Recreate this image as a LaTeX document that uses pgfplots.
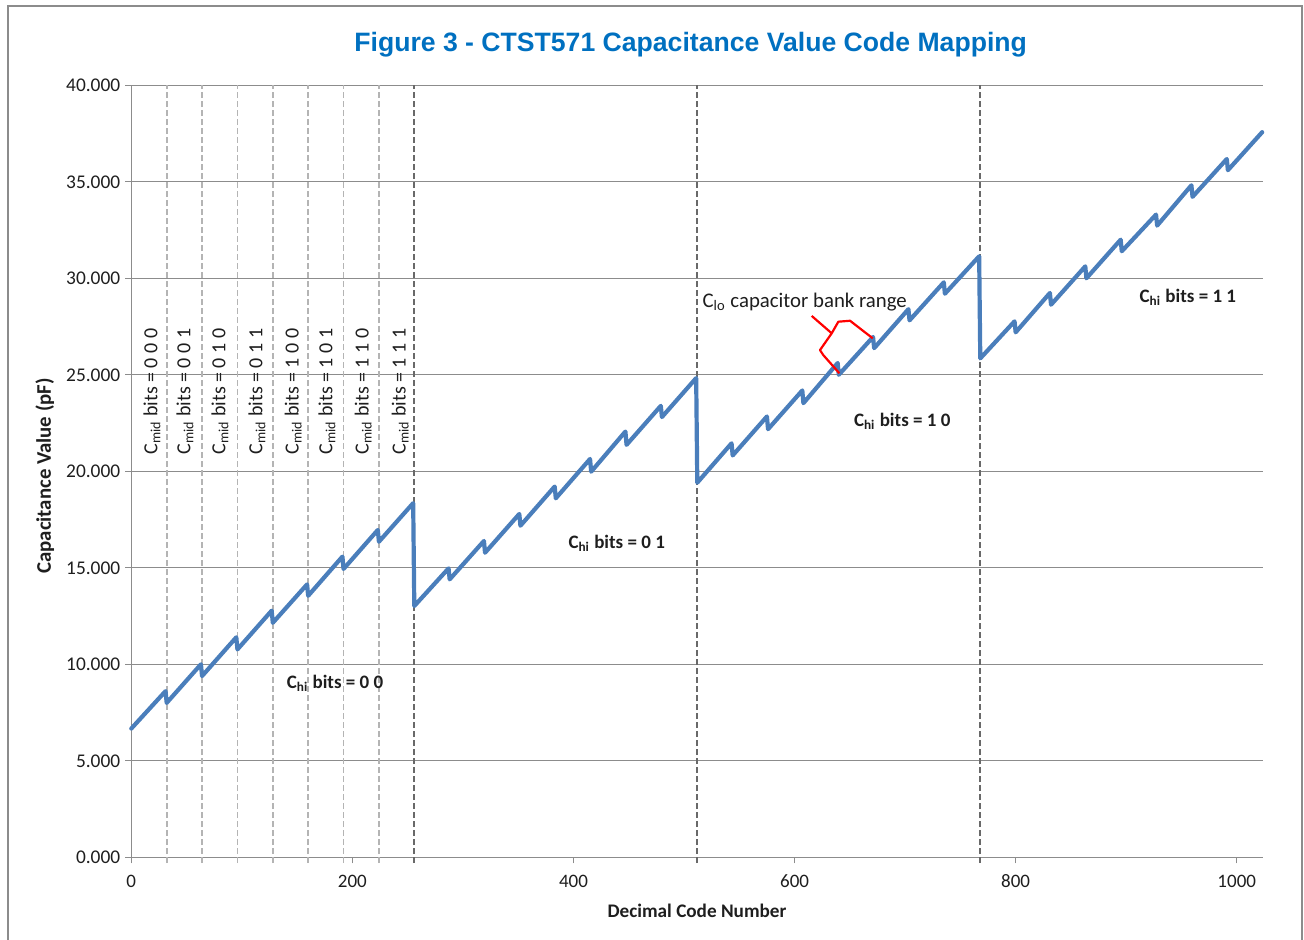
\documentclass[border=0pt]{standalone}
\usepackage{pgfplots}
\pgfplotsset{compat=1.18}
\usepackage{fontspec}
\setmainfont{Carlito}
\newfontfamily\titlefont{Liberation Sans}
\definecolor{lineblue}{RGB}{74,126,187}
\definecolor{titleblue}{RGB}{0,112,192}
\definecolor{gridgray}{RGB}{140,140,140}
\definecolor{lightdash}{RGB}{180,180,180}
\definecolor{darkdash}{RGB}{105,105,105}
\definecolor{txt}{RGB}{30,30,30}
\begin{document}
\begin{tikzpicture}
\begin{axis}[
  scale only axis, width=565.7pt, height=386pt,
  xmin=0, xmax=1023.5, ymin=0, ymax=40,
  clip=false,
  axis x line*=bottom, axis y line*=left,
  axis line style={gridgray, line width=0.7pt},
  xtick={0,200,...,1000}, ytick={0,5,...,40},
  tick align=outside, major tick length=3pt,
  tick style={gridgray, line width=0.7pt},
  ymajorgrids, major grid style={gridgray, line width=0.6pt},
  /pgf/number format/assume math mode=true,
  /pgf/number format/1000 sep={},
  yticklabel={\pgfmathprintnumber[fixed,fixed zerofill,precision=3]{\tick}},
  xticklabel style={font=\fontsize{9.5}{11}\selectfont, text=txt, yshift=-2.2pt},
  yticklabel style={font=\fontsize{9.7}{11}\selectfont, text=txt, xshift=1pt},
  xlabel={Decimal Code Number},
  ylabel={Capacitance Value (pF)},
  xlabel style={font=\fontsize{9.6}{11}\selectfont\bfseries, text=txt, at={(axis description cs:0.5,-0.0696)}, anchor=center},
  ylabel style={font=\fontsize{10.4}{12}\selectfont\bfseries, text=txt, at={(axis description cs:-0.0764,0.494)}, anchor=center, rotate=0},
]
\coordinate (BL) at (rel axis cs:0,0);
\coordinate (TR) at (rel axis cs:1,1);
\pgfplotsinvokeforeach{32,64,96,128,160,192,224}{
  \draw[lightdash, dash pattern=on 2.8pt off 1.7pt, line width=0.9pt] (axis cs:#1,-0.3) -- (axis cs:#1,40);
}
\pgfplotsinvokeforeach{256,512,768}{
  \draw[darkdash, dash pattern=on 2.8pt off 1.7pt, line width=0.9pt] (axis cs:#1,-0.3) -- (axis cs:#1,40);
}
\addplot[lineblue, line width=2.1pt, line join=round, line cap=round] coordinates {
(0,6.67) (31,8.61) (32,8.00) (63,10.00) (64,9.39) (95,11.40) (96,10.77) (127,12.78)
(128,12.15) (159,14.14) (160,13.55) (191,15.58) (192,14.94) (223,16.96) (224,16.35) (255,18.35)
(256,13.02) (287,14.97) (288,14.40) (319,16.39) (320,15.78) (351,17.79) (352,17.18) (383,19.21)
(384,18.60) (415,20.64) (416,19.98) (447,22.06) (448,21.37) (479,23.39) (480,22.81) (511,24.83)
(512,19.41) (543,21.45) (544,20.82) (575,22.84) (576,22.18) (607,24.19) (608,23.53) (639,25.61)
(640,25.00) (671,26.96) (672,26.38) (703,28.40) (704,27.82) (735,29.79) (736,29.20) (767,31.14)
(768,25.85) (799,27.77) (800,27.20) (831,29.24) (832,28.63) (863,30.62) (864,30.00) (895,32.00)
(896,31.40) (927,33.30) (928,32.73) (959,34.82) (960,34.22) (991,36.18) (992,35.60) (1023,37.57)
};
% Cmid labels
\node[rotate=90, font=\fontsize{10}{12}\selectfont, text=txt] at (axis cs:18.7,24.13) {C\textsubscript{mid} bits = 0 0 0};
\node[rotate=90, font=\fontsize{10}{12}\selectfont, text=txt] at (axis cs:48.6,24.13) {C\textsubscript{mid} bits = 0 0 1};
\node[rotate=90, font=\fontsize{10}{12}\selectfont, text=txt] at (axis cs:80.3,24.13) {C\textsubscript{mid} bits = 0 1 0};
\node[rotate=90, font=\fontsize{10}{12}\selectfont, text=txt] at (axis cs:113.8,24.13) {C\textsubscript{mid} bits = 0 1 1};
\node[rotate=90, font=\fontsize{10}{12}\selectfont, text=txt] at (axis cs:146.4,24.13) {C\textsubscript{mid} bits = 1 0 0};
\node[rotate=90, font=\fontsize{10}{12}\selectfont, text=txt] at (axis cs:177.1,24.13) {C\textsubscript{mid} bits = 1 0 1};
\node[rotate=90, font=\fontsize{10}{12}\selectfont, text=txt] at (axis cs:209.7,24.13) {C\textsubscript{mid} bits = 1 1 0};
\node[rotate=90, font=\fontsize{10}{12}\selectfont, text=txt] at (axis cs:243.2,24.13) {C\textsubscript{mid} bits = 1 1 1};
% Chi labels
\node[font=\fontsize{9.5}{11}\selectfont\bfseries, text=txt] at (axis cs:184.3,9.02) {C\textsubscript{hi} bits = 0 0};
\node[font=\fontsize{9.5}{11}\selectfont\bfseries, text=txt] at (axis cs:439.1,16.27) {C\textsubscript{hi} bits = 0 1};
\node[font=\fontsize{9.5}{11}\selectfont\bfseries, text=txt] at (axis cs:697.4,22.60) {C\textsubscript{hi} bits = 1 0};
\node[font=\fontsize{9.5}{11}\selectfont\bfseries, text=txt] at (axis cs:955.8,29.02) {C\textsubscript{hi} bits = 1 1};
% Clo annotation
\node[font=\fontsize{10.4}{12}\selectfont, text=txt] at (axis cs:609.2,28.79) {C\textsubscript{lo} capacitor bank range};
\draw[red, line width=1.1pt, line join=round] (axis cs:670.7,26.89) -- (axis cs:650.2,27.80) -- (axis cs:639.6,27.75) -- (axis cs:633.6,27.15) -- (axis cs:623.0,26.28) -- (axis cs:626.0,26.02) -- (axis cs:640.5,25.08);
\draw[red, line width=1.1pt] (axis cs:633.6,27.15) -- (axis cs:615.5,28.05);
% title
\node[font=\titlefont\fontsize{13.3}{15}\selectfont\bfseries, text=titleblue, yshift=20.2pt] at (axis cs:506,40) {Figure 3 - CTST571 Capacitance Value Code Mapping};
\end{axis}
\draw[gridgray, line width=1pt] ([shift={(-61.65pt,-41.35pt)}]BL) -- ([shift={(-61.65pt,425.65pt)}]BL) -- ([shift={(585.35pt,425.65pt)}]BL) -- ([shift={(585.35pt,-41.35pt)}]BL);
\pgfresetboundingbox
\path ([shift={(-65.65pt,-41.35pt)}]BL) rectangle ([shift={(586.35pt,428.65pt)}]BL);
\end{tikzpicture}
\end{document}
